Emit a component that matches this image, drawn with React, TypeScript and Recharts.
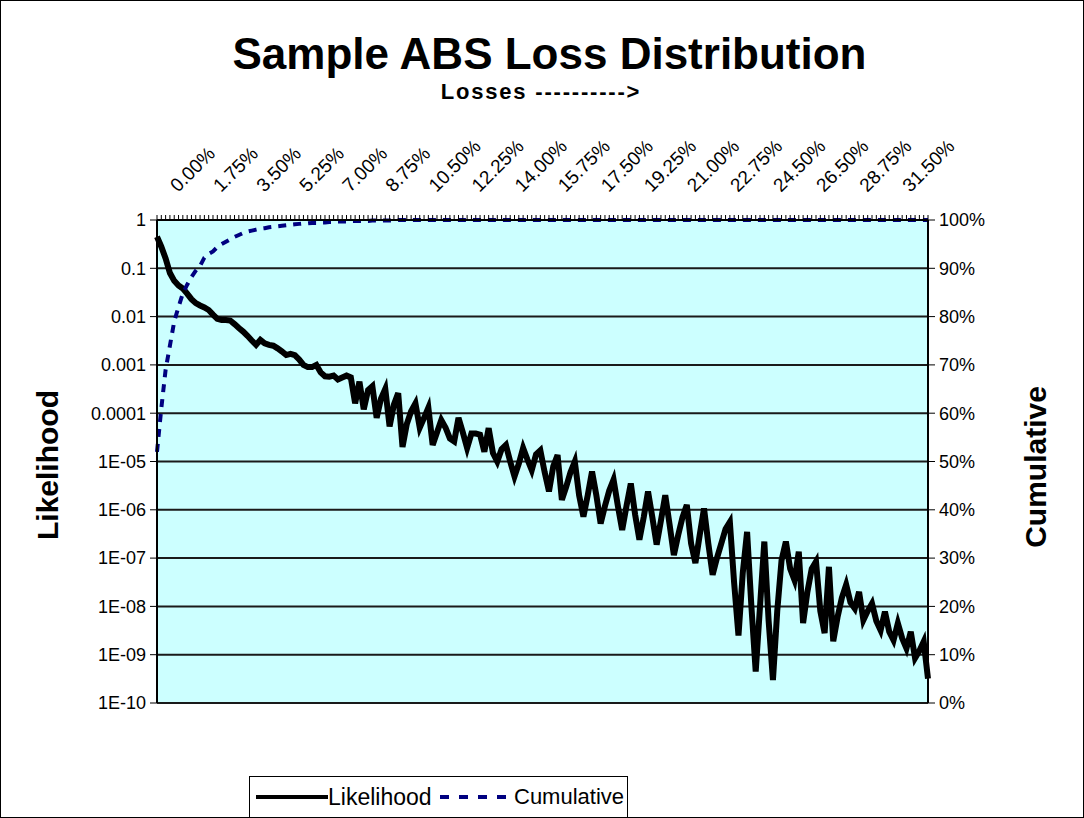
import { ComposedChart, Line, XAxis, YAxis, CartesianGrid } from "recharts"

// loss buckets are labelled every 10th category on the top axis
const LOSS_LABELS = [
  "0.00%", "1.75%", "3.50%", "5.25%", "7.00%", "8.75%", "10.50%", "12.25%", "14.00%",
  "15.75%", "17.50%", "19.25%", "21.00%", "22.75%", "24.50%", "26.50%", "28.75%", "31.50%",
]

const LIKELIHOOD = [
  4.5e-1, 2.8e-1, 1.6e-1, 8e-2, 5.5e-2, 4.4e-2, 3.8e-2, 3e-2, 2.3e-2, 1.9e-2,
  1.7e-2, 1.55e-2, 1.37e-2, 1.1e-2, 9e-3, 8.5e-3, 8.5e-3, 8.3e-3, 7e-3, 5.8e-3,
  4.9e-3, 4e-3, 3.2e-3, 2.6e-3, 3.3e-3, 2.8e-3, 2.6e-3, 2.5e-3, 2.2e-3, 1.9e-3,
  1.6e-3, 1.7e-3, 1.6e-3, 1.3e-3, 1e-3, 9e-4, 9e-4, 1e-3, 7e-4, 5.8e-4,
  5.7e-4, 6e-4, 5e-4, 5.5e-4, 6e-4, 5.5e-4, 1.6e-4, 4.5e-4, 1.2e-4, 3e-4,
  3.6e-4, 8e-5, 2e-4, 3.2e-4, 5.3e-5, 1.5e-4, 2.6e-4, 2e-5, 6e-5, 1.1e-4,
  1.6e-4, 5e-5, 8e-5, 1.3e-4, 2.2e-5, 4e-5, 7.2e-5, 5e-5, 3e-5, 2.6e-5,
  8e-5, 4e-5, 1.9e-5, 3.8e-5, 3.8e-5, 3.6e-5, 1.6e-5, 4.9e-5, 1.5e-5, 1e-5,
  1.8e-5, 2.2e-5, 1e-5, 4.9e-6, 9e-6, 1.9e-5, 1.1e-5, 6.6e-6, 1.4e-5, 1.7e-5,
  6e-6, 2.4e-6, 8e-6, 1.36e-5, 1.6e-6, 3e-6, 6e-6, 1e-5, 2e-6, 7.2e-7,
  2e-6, 6.2e-6, 2e-6, 5.2e-7, 1.2e-6, 2.5e-6, 4.2e-6, 1.2e-6, 3.8e-7, 1.2e-6,
  3.5e-6, 8e-7, 2.4e-7, 7e-7, 2.4e-6, 7e-7, 1.9e-7, 6e-7, 2e-6, 5e-7,
  1.15e-7, 3e-7, 7e-7, 1.26e-6, 2e-7, 7.9e-8, 3e-7, 1.07e-6, 2e-7, 4.5e-8,
  1e-7, 2e-7, 4e-7, 5.6e-7, 3e-8, 2.5e-9, 5e-8, 3.5e-7, 1e-8, 4.5e-10,
  1e-8, 2.2e-7, 5e-9, 3e-10, 8e-9, 9e-8, 2.2e-7, 6e-8, 3.5e-8, 1.35e-7,
  4.5e-9, 2e-8, 6e-8, 8.5e-8, 8e-9, 2.8e-9, 6.6e-8, 1.9e-9, 6e-9, 1.5e-8,
  2.8e-8, 1.2e-8, 9e-9, 2e-8, 5.2e-9, 8e-9, 1.15e-8, 5e-9, 3.2e-9, 7.8e-9,
  3e-9, 2e-9, 4.5e-9, 2.2e-9, 1.35e-9, 3e-9, 8.5e-10, 1.2e-9, 1.86e-9, 3.2e-10,
]

const CUMULATIVE = [
  0.52, 0.61, 0.69, 0.74, 0.79, 0.82, 0.848, 0.866, 0.882, 0.895,
  0.905, 0.922, 0.93, 0.935, 0.944, 0.95, 0.955, 0.96, 0.965, 0.969,
  0.973, 0.976, 0.978, 0.98, 0.982, 0.983, 0.985, 0.986, 0.987, 0.988,
  0.989, 0.99, 0.991, 0.992, 0.993, 0.993, 0.994, 0.994, 0.995, 0.995,
  0.996, 0.996, 0.997, 0.997, 0.997, 0.998, 0.998, 0.998, 0.998, 0.998,
  0.999, 0.999, 0.999, 0.999, 0.999, 0.999, 1, 1, 1, 1,
  1, 1, 1, 1, 1, 1, 1, 1, 1, 1,
  1, 1, 1, 1, 1, 1, 1, 1, 1, 1,
  1, 1, 1, 1, 1, 1, 1, 1, 1, 1,
  1, 1, 1, 1, 1, 1, 1, 1, 1, 1,
  1, 1, 1, 1, 1, 1, 1, 1, 1, 1,
  1, 1, 1, 1, 1, 1, 1, 1, 1, 1,
  1, 1, 1, 1, 1, 1, 1, 1, 1, 1,
  1, 1, 1, 1, 1, 1, 1, 1, 1, 1,
  1, 1, 1, 1, 1, 1, 1, 1, 1, 1,
  1, 1, 1, 1, 1, 1, 1, 1, 1, 1,
  1, 1, 1, 1, 1, 1, 1, 1, 1, 1,
  1, 1, 1, 1, 1, 1, 1, 1, 1, 1,
]

const LEFT_TICKS = [1e-10, 1e-9, 1e-8, 1e-7, 1e-6, 1e-5, 1e-4, 1e-3, 1e-2, 1e-1, 1]
const LEFT_TICK_LABELS = ["1E-10", "1E-09", "1E-08", "1E-07", "1E-06", "1E-05", "0.0001", "0.001", "0.01", "0.1", "1"]
const RIGHT_TICKS = [0, 0.1, 0.2, 0.3, 0.4, 0.5, 0.6, 0.7, 0.8, 0.9, 1]

const FONT = "Arial, 'Liberation Sans', sans-serif"
const NAVY = "#000080"
const TICK = { fontSize: 18, fill: "#000", fontFamily: FONT }

const data = LIKELIHOOD.map((v, i) => ({ i, likelihood: v, cumulative: CUMULATIVE[i] }))

function LossTick(props: any) {
  const { x, payload } = props
  const i = payload.value as number
  if (i % 10 !== 0) return null
  const tx = x + 21
  const ty = 193
  return (
    <text x={tx} y={ty} transform={`rotate(-45 ${tx} ${ty})`} textAnchor="start" fontSize={19} fill="#000" fontFamily={FONT}>
      {LOSS_LABELS[i / 10]}
    </text>
  )
}

export default function App() {
  return (
    <div style={{ position: "relative", width: 1084, height: 818, background: "#fff", fontFamily: FONT }}>
      <style>{"body{margin:0}"}</style>
      <ComposedChart width={1084} height={818} data={data} margin={{ top: 0, right: 0, bottom: 115, left: 0 }}>
        <CartesianGrid yAxisId="l" vertical={false} fill="#ccffff" fillOpacity={1} stroke="#1a1a1a" strokeWidth={2} />
        <XAxis
          dataKey="i" orientation="top" height={220} interval={0}
          tick={<LossTick />} tickSize={5} tickLine={{ stroke: "#000" }}
          axisLine={{ stroke: "#000", strokeWidth: 2 }}
        />
        <YAxis
          yAxisId="l" scale="log" domain={[1e-10, 1]} ticks={LEFT_TICKS} allowDataOverflow
          width={157} tick={TICK} tickSize={7} tickMargin={4} tickLine={{ stroke: "#000" }}
          axisLine={{ stroke: "#000", strokeWidth: 2 }}
          tickFormatter={(v: number) => LEFT_TICK_LABELS[LEFT_TICKS.indexOf(v)] ?? ""}
        />
        <YAxis
          yAxisId="r" orientation="right" domain={[0, 1]} ticks={RIGHT_TICKS}
          width={156} tick={TICK} tickSize={7} tickMargin={4} tickLine={{ stroke: "#000" }}
          axisLine={{ stroke: "#000", strokeWidth: 2 }}
          tickFormatter={(v: number) => `${Math.round(v * 100)}%`}
        />
        <Line yAxisId="l" type="linear" dataKey="likelihood" stroke="#000" strokeWidth={6} dot={false} isAnimationActive={false} />
        <Line yAxisId="r" type="linear" dataKey="cumulative" stroke={NAVY} strokeWidth={4} strokeDasharray="8 7" dot={false} isAnimationActive={false} />
      </ComposedChart>

      <div style={{ position: "absolute", left: 0, width: 1099, top: 33, textAlign: "center", fontSize: 44, fontWeight: "bold", lineHeight: "42px" }}>
        Sample ABS Loss Distribution
      </div>
      <div style={{ position: "absolute", left: 0, width: 1082, top: 82, textAlign: "center", fontSize: 22, fontWeight: "bold", lineHeight: "20px", letterSpacing: 1.8 }}>
        Losses ----------&gt;
      </div>
      <div style={{ position: "absolute", left: 48, top: 465, transform: "translate(-50%, -50%) rotate(-90deg)", fontSize: 30, fontWeight: "bold", whiteSpace: "nowrap" }}>
        Likelihood
      </div>
      <div style={{ position: "absolute", left: 1036, top: 467, transform: "translate(-50%, -50%) rotate(-90deg)", fontSize: 30, fontWeight: "bold", whiteSpace: "nowrap" }}>
        Cumulative
      </div>

      <div style={{ position: "absolute", left: 249, top: 776, width: 379, height: 50, border: "1.5px solid #000", background: "#fff", boxSizing: "border-box" }}>
        <svg width={80} height={40} style={{ position: "absolute", left: 4, top: 0 }}>
          <line x1={2} y1={20} x2={74} y2={20} stroke="#000" strokeWidth={4} />
        </svg>
        <span style={{ position: "absolute", left: 78, top: 7, fontSize: 23, lineHeight: "26px" }}>Likelihood</span>
        <svg width={80} height={40} style={{ position: "absolute", left: 188, top: 0 }}>
          <line x1={2} y1={20} x2={76} y2={20} stroke={NAVY} strokeWidth={4} strokeDasharray="9 10" />
        </svg>
        <span style={{ position: "absolute", left: 264, top: 7, fontSize: 22, lineHeight: "26px" }}>Cumulative</span>
      </div>

      <div style={{ position: "absolute", left: 0, top: 0, width: 1084, height: 818, border: "1px solid #000", boxSizing: "border-box", pointerEvents: "none" }} />
    </div>
  )
}
